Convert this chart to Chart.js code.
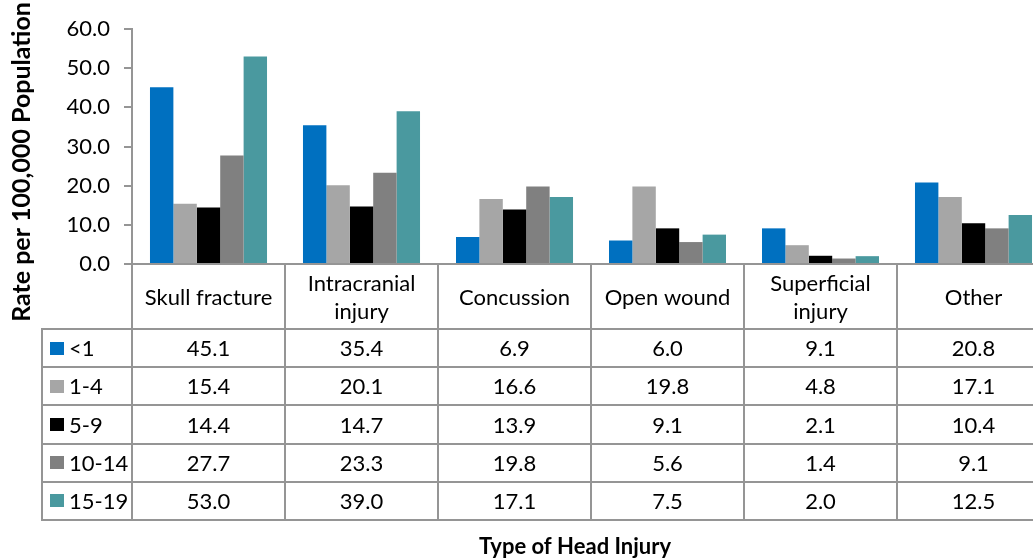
<!DOCTYPE html>
<html><head><meta charset="utf-8">
<script src="https://cdn.jsdelivr.net/npm/chart.js@4.4.0/dist/chart.umd.min.js"></script>
<style>html,body{margin:0;padding:0;overflow:hidden;background:#fff}#wrap{width:1050px;height:559px;position:relative}</style>
</head><body><div id="wrap"><canvas id="c" width="1050" height="559"></canvas></div>
<script>
const categories = [["Skull fracture"],["Intracranial","injury"],["Concussion"],["Open wound"],["Superficial","injury"],["Other"]];
const seriesLabels = ["<1","1-4","5-9","10-14","15-19"];
const under1 = [45.1,35.4,6.9,6.0,9.1,20.8];
const age1to4 = [15.4,20.1,16.6,19.8,4.8,17.1];
const age5to9 = [14.4,14.7,13.9,9.1,2.1,10.4];
const age10to14 = [27.7,23.3,19.8,5.6,1.4,9.1];
const age15to19 = [53.0,39.0,17.1,7.5,2.0,12.5];
const yTickValues = [0,10,20,30,40,50,60];
const seriesColors = ['#0070C0','#A6A6A6','#000000','#808080','#4A999F'];
const yTitle = 'Rate per 100,000 Population';
const xTitle = 'Type of Head Injury';

const FONT = 'Lato, "Open Sans", sans-serif';
const FS = 22;
const LINE = '#959595';
const seriesValues = [under1, age1to4, age5to9, age10to14, age15to19];

const tablePlugin = {
  id: 'dataTable',
  afterDraw(chart) {
    const ctx = chart.ctx, xs = chart.scales.x, ca = chart.chartArea;
    const n = categories.length;
    const cw = (ca.right - ca.left) / n;
    const top = ca.bottom;
    const headerBottom = top + 65;
    const rowH = 38.2;
    const rows = seriesValues.length;
    const tableBottom = headerBottom + rows * rowH;
    const legendLeft = 42;
    ctx.save();
    ctx.strokeStyle = LINE; ctx.lineWidth = 2;
    const line = (x1, y1, x2, y2) => { ctx.beginPath(); ctx.moveTo(x1, y1); ctx.lineTo(x2, y2); ctx.stroke(); };
    line(ca.left, top, ca.right, top);
    for (let i = 0; i <= n; i++) {
      const xx = Math.round(xs.getPixelForValue(0) - cw / 2 + i * cw);
      line(xx, top, xx, tableBottom + 1);
    }
    line(legendLeft, headerBottom, legendLeft, tableBottom + 1);
    for (let r = 0; r <= rows; r++) {
      const yy = Math.round(headerBottom + r * rowH);
      line(legendLeft - 1, yy, ca.right, yy);
    }
    ctx.fillStyle = '#000';
    ctx.font = FS + 'px ' + FONT;
    ctx.textAlign = 'center'; ctx.textBaseline = 'middle';
    categories.forEach((lab, i) => {
      const cx = xs.getPixelForValue(i);
      const cy = (top + headerBottom) / 2 + 1;
      const lh = 28;
      lab.forEach((t, k) => ctx.fillText(t, cx, cy + (k - (lab.length - 1) / 2) * lh));
      seriesValues.forEach((vals, r) => {
        ctx.fillText(vals[i].toFixed(1), cx, headerBottom + (r + 0.5) * rowH + 1);
      });
    });
    ctx.textAlign = 'left';
    seriesLabels.forEach((s, r) => {
      const cy = headerBottom + (r + 0.5) * rowH;
      ctx.fillStyle = seriesColors[r];
      ctx.fillRect(50, Math.round(cy - 6.5), 14, 13);
      ctx.fillStyle = '#000';
      ctx.fillText(s, 69, cy + 1);
    });
    ctx.textAlign = 'center';
    ctx.font = 'bold 22px ' + FONT;
    ctx.fillText(xTitle, 575, 547);
    ctx.font = 'bold 25px ' + FONT;
    ctx.translate(22, 162);
    ctx.rotate(-Math.PI / 2);
    ctx.fillText(yTitle, 0, 0);
    ctx.restore();
  }
};

new Chart(document.getElementById('c'), {
  type: 'bar',
  data: {
    labels: categories.map(c => c.join(' ')),
    datasets: seriesLabels.map((s, i) => ({
      label: s, data: seriesValues[i], backgroundColor: seriesColors[i], borderWidth: 0,
      categoryPercentage: 0.765, barPercentage: 1.0
    }))
  },
  options: {
    responsive: false, animation: false, devicePixelRatio: 1,
    layout: { padding: { top: 29, bottom: 287, left: 0, right: 0 } },
    plugins: { legend: { display: false }, tooltip: { enabled: false } },
    scales: {
      x: { ticks: { display: false }, grid: { display: false }, border: { display: false } },
      y: {
        min: 0, max: 60,
        afterBuildTicks: s => { s.ticks = yTickValues.map(v => ({ value: v })); },
        afterFit: s => { s.width = 132; },
        ticks: { color: '#000', font: { family: FONT, size: FS }, padding: 14, callback: v => Number(v).toFixed(1) },
        grid: { drawOnChartArea: false, drawTicks: true, tickLength: 8, color: LINE, lineWidth: 2 },
        border: { display: true, color: LINE, width: 2 }
      }
    }
  },
  plugins: [tablePlugin]
});
</script></body></html>
